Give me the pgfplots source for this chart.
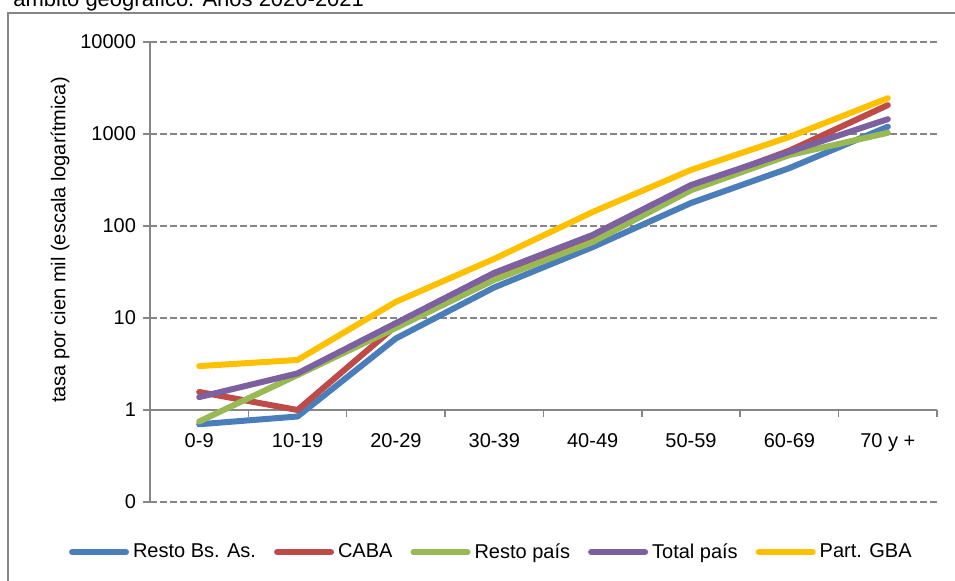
\documentclass[border=0pt]{standalone}
\usepackage{fontspec}
\setmainfont{Liberation Sans}
\usepackage{pgfplots}
\pgfplotsset{compat=1.18}
\definecolor{cBlue}{HTML}{4A7EBB}
\definecolor{cRed}{HTML}{BE4B48}
\definecolor{cGreen}{HTML}{98B954}
\definecolor{cPurple}{HTML}{7D60A0}
\definecolor{cYellow}{HTML}{FFC000}
\definecolor{cAxis}{HTML}{868686}
\begin{document}
\begin{tikzpicture}
\begin{axis}[
  scale only axis, width=393.5pt, height=230pt,
  at={(75pt,39pt)}, anchor=south west,
  ymode=log, ymin=0.1, ymax=10000,
  xmin=-0.5, xmax=7.5,
  axis x line*=middle, axis y line*=left,
  hide obscured x ticks=false, hide obscured y ticks=false,
  axis line style={cAxis, line width=0.75pt},
  xtick={-0.5,0.5,1.5,2.5,3.5,4.5,5.5,6.5,7.5},
  xticklabels={},
  extra x ticks={0,1,2,3,4,5,6,7},
  extra x tick labels={0-9,10-19,20-29,30-39,40-49,50-59,60-69,70 y +},
  extra x tick style={major tick length=0pt, grid=none, xticklabel style={yshift=-8pt}},
  ytick={0.1,1,10,100,1000,10000},
  yticklabels={0,1,10,100,1000,10000},
  yminorticks=false, minor ytick={},
  tick align=outside, major tick length=3.5pt,
  tick style={cAxis, line width=0.75pt},
  ymajorgrids,
  major grid style={cAxis, line width=0.75pt, dash pattern=on 3.5pt off 1.5pt},
  tick label style={font=\fontsize{10}{12}\selectfont},
  /pgf/number format/assume math mode=true,
  legend style={at={(0.435,-0.109)}, anchor=center, draw=none, fill=none,
    legend columns=5, font=\fontsize{10}{12}\selectfont,
    /tikz/every even column/.append style={column sep=7pt},
    inner sep=0pt},
  legend image code/.code={\draw[#1, line width=3pt, line cap=round] (0pt,0pt) -- (27pt,0pt);},
  every axis plot/.append style={line width=3pt, line cap=round, line join=round, mark=none},
]
\addplot[cBlue] coordinates {(0,0.70) (1,0.85) (2,6.0) (3,21.5) (4,59) (5,178) (6,426) (7,1200)};
\addlegendentry{Resto Bs. As.}
\addplot[cRed] coordinates {(0,1.57) (1,1.0) (2,8.2) (3,28) (4,76) (5,265) (6,660) (7,2060)};
\addlegendentry{CABA}
\addplot[cGreen] coordinates {(0,0.75) (1,2.4) (2,7.8) (3,26) (4,67) (5,245) (6,590) (7,1030)};
\addlegendentry{Resto país}
\addplot[cPurple] coordinates {(0,1.38) (1,2.5) (2,8.8) (3,31) (4,80) (5,279) (6,640) (7,1450)};
\addlegendentry{Total país}
\addplot[cYellow] coordinates {(0,3.0) (1,3.5) (2,15) (3,44) (4,142) (5,407) (6,930) (7,2450)};
\addlegendentry{Part. GBA}
\end{axis}
\node[rotate=90, font=\fontsize{10}{12}\selectfont] at (30pt,170pt) {tasa por cien mil  (escala logarítmica)};
\draw[cAxis, line width=0.75pt] (4pt,-10pt) -- (4pt,283.5pt) -- (490pt,283.5pt);
\node[anchor=base west, inner sep=0pt, font=\fontsize{11}{13}\selectfont] at (6.5pt,287pt) {ámbito geográfico. Años 2020-2021};
\pgfresetboundingbox
\useasboundingbox (0,0) rectangle (477.5pt,290pt);
\end{tikzpicture}
\end{document}
